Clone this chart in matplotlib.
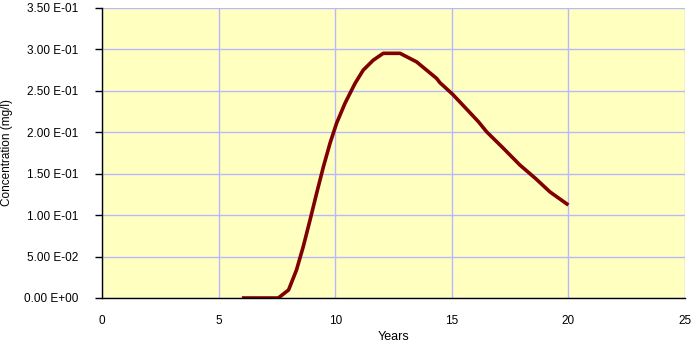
import numpy as np
import matplotlib.pyplot as plt
from matplotlib.ticker import FuncFormatter

# values
years = [6.0, 7.0, 7.56, 8.0, 8.34, 8.63, 8.92, 9.2, 9.49, 9.78, 10.06, 10.42,
         10.85, 11.2, 11.63, 12.06, 12.4, 12.78, 13.49, 14.35, 14.49, 15.03,
         15.5, 16.14, 16.49, 17.2, 17.92, 18.6, 19.21, 20.0]
conc = [0.0, 0.0, 0.0, 0.0097, 0.0338, 0.062, 0.094, 0.126, 0.158, 0.187,
        0.211, 0.235, 0.259, 0.275, 0.287, 0.2953, 0.2953, 0.2953, 0.285,
        0.265, 0.2599, 0.246, 0.232, 0.2128, 0.2007, 0.181, 0.1605, 0.144,
        0.128, 0.1122]

x_ticks = [0, 5, 10, 15, 20, 25]
y_ticks = [0.0, 0.05, 0.10, 0.15, 0.20, 0.25, 0.30, 0.35]

plt.rcParams['font.family'] = ['Liberation Sans', 'DejaVu Sans']

fig = plt.figure(figsize=(6.92, 3.46), dpi=100)
ax = fig.add_axes([102/692, 48/346, 583/692, 290/346])
ax.set_facecolor('#FFFFC0')

ax.plot(years, conc, color='#800000', lw=2.6, solid_capstyle='butt')

ax.set_xlim(0, 25)
ax.set_ylim(0, 0.35)
ax.set_xticks(x_ticks)
ax.set_yticks(y_ticks)
ax.grid(True, color='#B8B8FF', lw=1)
ax.set_axisbelow(True)

def sci(v, pos):
    s = '%.2E' % v
    return s.replace('E', ' E')

ax.yaxis.set_major_formatter(FuncFormatter(sci))

for side in ['top', 'right']:
    ax.spines[side].set_visible(False)
for side in ['left', 'bottom']:
    ax.spines[side].set_color('black')
    ax.spines[side].set_linewidth(1)

ax.tick_params(axis='y', direction='out', length=5, width=1, labelsize=8.5, pad=12)
ax.tick_params(axis='x', length=0, labelsize=8.5, pad=12)

ax.set_xlabel('Years', fontsize=9, labelpad=3)
ax.set_ylabel('Concentration (mg/l)', fontsize=8.5, labelpad=8)

fig.savefig('out.png', dpi=100)
